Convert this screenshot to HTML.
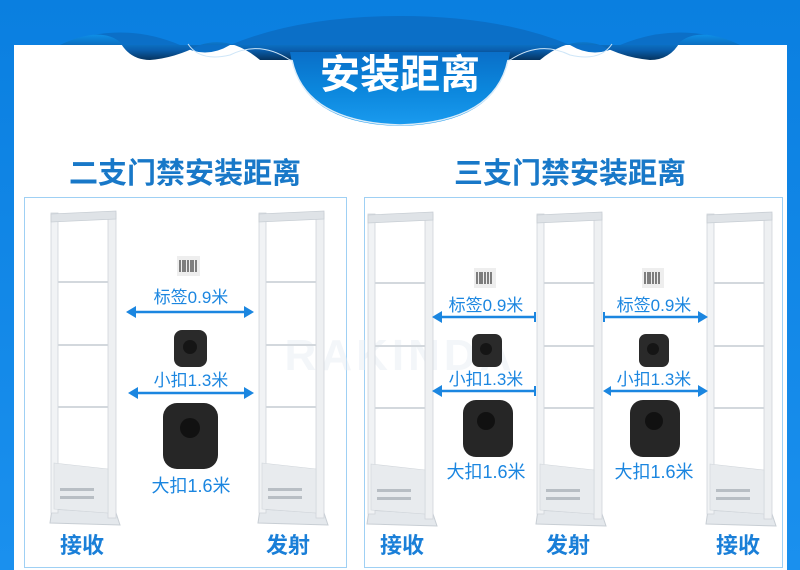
<!DOCTYPE html>
<html><head><meta charset="utf-8"><style>
html,body{margin:0;padding:0;width:800px;height:570px;overflow:hidden;background:#fff}
svg{display:block}
text{font-family:"Liberation Sans","Noto Sans CJK SC",sans-serif}
</style></head><body>
<svg width="800" height="570" viewBox="0 0 800 570" xmlns="http://www.w3.org/2000/svg">
<defs>
<linearGradient id="bg" x1="0" y1="0" x2="0" y2="1"><stop offset="0" stop-color="#0a7fe0"/><stop offset="1" stop-color="#1a90ee"/></linearGradient>
<linearGradient id="rib" x1="0" y1="0" x2="0" y2="1"><stop offset="0" stop-color="#0e8ee6"/><stop offset="0.6" stop-color="#0a5fae"/><stop offset="1" stop-color="#06345f"/></linearGradient>
<linearGradient id="dome" x1="0" y1="0" x2="0" y2="1"><stop offset="0" stop-color="#0a6fc8"/><stop offset="0.5" stop-color="#0b86dc"/><stop offset="1" stop-color="#1a9bef"/></linearGradient>
<g id="gate">
  <path d="M0 310 L2 296 L66 300 L70 312 Z" fill="#e4e8ec" stroke="#c8ced4"/>
  <rect x="1" y="0" width="7" height="300" fill="#f1f3f5" stroke="#cfd4da" stroke-width="0.8"/>
  <rect x="58" y="0" width="8" height="305" fill="#eef0f2" stroke="#cfd4da" stroke-width="0.8"/>
  <path d="M1 1 L66 -2 L66 6 L1 9 Z" fill="#dfe3e7" stroke="#c8ced4" stroke-width="0.8"/>
  <rect x="8" y="68" width="50" height="2" fill="#d3d8dd"/>
  <rect x="8" y="131" width="50" height="2" fill="#d3d8dd"/>
  <rect x="8" y="193" width="50" height="2" fill="#d3d8dd"/>
  <path d="M4 250 L58 256 L58 300 L4 296 Z" fill="#e8ebee" stroke="#d0d5da" stroke-width="0.6"/>
  <rect x="10" y="275" width="34" height="3" fill="#b8bec4"/>
  <rect x="10" y="283" width="34" height="3" fill="#b8bec4"/>
</g>
</defs>
<rect width="800" height="570" fill="url(#bg)"/>
<rect x="14" y="45" width="773" height="525" fill="#fff"/>
<path d="M60 45 Q120 20 180 45 Q205 60 230 45 Q300 16 400 16 Q500 16 570 45 Q595 60 620 45 Q680 20 740 45 Z" fill="#0b6fc7"/>
<path d="M60 45 Q100 26 120 42 Q130 60 150 60 Q175 58 200 45 Q230 35 260 60 L540 60 Q570 35 600 45 Q625 58 650 60 Q670 60 680 42 Q700 26 740 45 Z" fill="url(#rib)"/>
<path d="M188 44 Q200 62 230 55 Q260 40 290 60 L510 60 Q540 40 570 55 Q600 62 612 44" fill="none" stroke="#cfe6f8" stroke-width="1"/>
<path d="M290 52 Q300 124 400 126 Q500 124 510 52 Z" fill="url(#dome)"/>
<path d="M292 60 Q305 122 400 125 Q495 122 508 60" fill="none" stroke="#dcecf8" stroke-width="1.5"/>
<text x="400" y="88" text-anchor="middle" font-size="40" font-weight="bold" fill="#fff">安装距离</text>
<text x="185" y="183" text-anchor="middle" font-size="29" font-weight="bold" fill="#1878c8">二支门禁安装距离</text>
<text x="570" y="183" text-anchor="middle" font-size="29" font-weight="bold" fill="#1878c8">三支门禁安装距离</text>
<rect x="24.5" y="197.5" width="322" height="370" fill="none" stroke="#9fd0f4"/>
<rect x="364.5" y="197.5" width="418" height="370" fill="none" stroke="#9fd0f4"/>
<text x="400" y="370" text-anchor="middle" font-size="44" font-weight="bold" fill="#e6ecf3" opacity="0.45" letter-spacing="4">RAKINDA</text>
<use href="#gate" x="50" y="213"/>
<use href="#gate" x="258" y="213"/>
<use href="#gate" x="367" y="214"/>
<use href="#gate" x="536" y="214"/>
<use href="#gate" x="706" y="214"/>
<g fill="#1b86e0" font-size="17">
<rect x="177" y="256" width="23" height="20" fill="#eee"/>
<g stroke="#333" stroke-width="1.2"><path d="M180 260v12M183 260v12M185 260v12M188 260v12M191 260v12M193 260v12M196 260v12"/></g>
<text x="191" y="303" text-anchor="middle">标签0.9米</text>
<line x1="130" y1="312" x2="250" y2="312" stroke="#1b86e0" stroke-width="2.5"/>
<path d="M126 312 l10 -6 v12z M254 312 l-10 -6 v12z"/>
<rect x="174" y="330" width="33" height="37" rx="8" fill="#2a2a2a"/>
<circle cx="190" cy="347" r="7" fill="#151515"/>
<text x="191" y="386" text-anchor="middle">小扣1.3米</text>
<line x1="132" y1="393" x2="250" y2="393" stroke="#1b86e0" stroke-width="2.5"/>
<path d="M128 393 l10 -6 v12z M254 393 l-10 -6 v12z"/>
<rect x="163" y="403" width="55" height="66" rx="14" fill="#262626"/>
<circle cx="190" cy="428" r="10" fill="#111"/>
<text x="191" y="492" text-anchor="middle" font-size="18">大扣1.6米</text>
</g>
<g fill="#1b86e0" font-size="17">
<rect x="474" y="268" width="22" height="20" fill="#eee"/>
<g stroke="#333" stroke-width="1.2"><path d="M477 272v12M480 272v12M482 272v12M485 272v12M488 272v12M491 272v12"/></g>
<text x="486" y="311" text-anchor="middle">标签0.9米</text>
<line x1="435" y1="317" x2="534" y2="317" stroke="#1b86e0" stroke-width="2.5"/>
<path d="M432 317 l10 -6 v12z"/><rect x="534" y="312" width="2" height="10"/>
<rect x="472" y="334" width="30" height="33" rx="7" fill="#2a2a2a"/>
<circle cx="486" cy="349" r="6" fill="#151515"/>
<text x="486" y="385" text-anchor="middle">小扣1.3米</text>
<line x1="435" y1="391" x2="534" y2="391" stroke="#1b86e0" stroke-width="2.5"/>
<path d="M432 391 l10 -6 v12z"/><rect x="534" y="386" width="2" height="10"/>
<rect x="463" y="400" width="50" height="57" rx="13" fill="#262626"/>
<circle cx="486" cy="421" r="9" fill="#111"/>
<text x="486" y="478" text-anchor="middle" font-size="18">大扣1.6米</text>
<rect x="642" y="268" width="22" height="20" fill="#eee"/>
<g stroke="#333" stroke-width="1.2"><path d="M645 272v12M648 272v12M650 272v12M653 272v12M656 272v12M659 272v12"/></g>
<text x="654" y="311" text-anchor="middle">标签0.9米</text>
<line x1="605" y1="317" x2="704" y2="317" stroke="#1b86e0" stroke-width="2.5"/>
<path d="M708 317 l-10 -6 v12z"/><rect x="603" y="312" width="2" height="10"/>
<rect x="639" y="334" width="30" height="33" rx="7" fill="#2a2a2a"/>
<circle cx="653" cy="349" r="6" fill="#151515"/>
<text x="654" y="385" text-anchor="middle">小扣1.3米</text>
<line x1="607" y1="391" x2="704" y2="391" stroke="#1b86e0" stroke-width="2.5"/>
<path d="M708 391 l-10 -6 v12z M603 391 l8 -5 v10z"/>
<rect x="630" y="400" width="50" height="57" rx="13" fill="#262626"/>
<circle cx="654" cy="421" r="9" fill="#111"/>
<text x="654" y="478" text-anchor="middle" font-size="18">大扣1.6米</text>
</g>
<g font-size="22" font-weight="bold" fill="#1a7fd8" text-anchor="middle">
<text x="82" y="553">接收</text>
<text x="288" y="553">发射</text>
<text x="402" y="553">接收</text>
<text x="568" y="553">发射</text>
<text x="738" y="553">接收</text>
</g>
</svg>
</body></html>
